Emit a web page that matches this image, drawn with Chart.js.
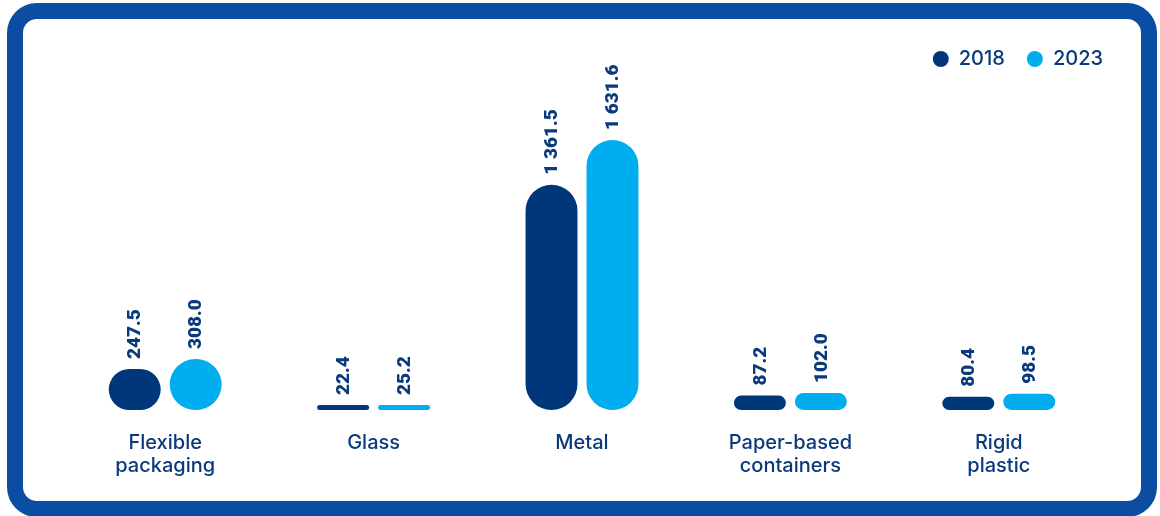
<!DOCTYPE html>
<html>
<head>
<meta charset="utf-8">
<script src="https://cdn.jsdelivr.net/npm/chart.js@4"></script>
<style>
  body { margin: 0; background: #fff; }
  #frame {
    position: absolute; left: 7px; top: 3px; width: 1150px; height: 514px;
    box-sizing: border-box; border: 16px solid #0a4da2; border-radius: 30px;
  }
  #wrap { position: absolute; left: 0; top: 0; width: 1160px; height: 516px; }
</style>
</head>
<body>
<div id="frame"></div>
<div id="wrap"><canvas id="c" width="1160" height="516"></canvas></div>
<script>
const categories = [['Flexible', 'packaging'], 'Glass', 'Metal', ['Paper-based', 'containers'], ['Rigid', 'plastic']];
const values2018 = [247.5, 22.4, 1361.5, 87.2, 80.4];
const values2023 = [308.0, 25.2, 1631.6, 102.0, 98.5];
const series_labels = ['2018', '2023'];

const navy = '#00377b';
const cyan = '#00adee';
const text_color = '#0b3a7c';

function fmt(v) {
  const parts = v.toFixed(1).split('.');
  return parts[0].replace(/\B(?=(\d{3})+(?!\d))/g, ' ') + '.' + parts[1];
}

// rotated value labels above each bar
const value_labels = {
  id: 'valueLabels',
  afterDatasetsDraw: (chart) => {
    const ctx = chart.ctx;
    ctx.save();
    ctx.fillStyle = text_color;
    ctx.font = '900 19px Roboto';
    ctx.textAlign = 'left';
    ctx.textBaseline = 'middle';
    chart.data.datasets.forEach((ds, i) => {
      chart.getDatasetMeta(i).data.forEach((bar, j) => {
        ctx.save();
        ctx.translate(bar.x + 1, bar.y - 10);
        ctx.rotate(-Math.PI / 2);
        ctx.fillText(fmt(ds.data[j]), 0, 0);
        ctx.restore();
      });
    });
    ctx.restore();
  }
};

new Chart(document.getElementById('c'), {
  type: 'bar',
  data: {
    labels: categories,
    datasets: [
      { label: series_labels[0], data: values2018, backgroundColor: navy },
      { label: series_labels[1], data: values2023, backgroundColor: cyan }
    ]
  },
  options: {
    responsive: false,
    animation: false,
    maintainAspectRatio: false,
    layout: { padding: { left: 61, right: 35, top: 27, bottom: 18 } },
    datasets: {
      bar: {
        categoryPercentage: 0.585,
        barPercentage: 0.852,
        borderRadius: 40,
        borderSkipped: false,
        minBarLength: 5
      }
    },
    scales: {
      x: {
        grid: { display: false, drawTicks: false },
        border: { display: false },
        ticks: {
          color: text_color,
          font: { family: 'Inter', size: 20, weight: 500, lineHeight: 1.15 },
          padding: 21
        }
      },
      y: {
        position: 'right',
        min: 0,
        max: 2000,
        grid: { display: false, drawTicks: false },
        border: { display: false },
        ticks: { display: false },
        afterFit: (scale) => { scale.width = 22; }
      }
    },
    plugins: {
      legend: {
        align: 'end',
        labels: {
          color: text_color,
          font: { family: 'Inter', size: 20, weight: 500 },
          usePointStyle: true,
          pointStyle: 'circle',
          boxWidth: 16,
          boxHeight: 11.3,
          padding: 22
        }
      },
      tooltip: { enabled: false }
    }
  },
  plugins: [value_labels]
});
</script>
</body>
</html>
